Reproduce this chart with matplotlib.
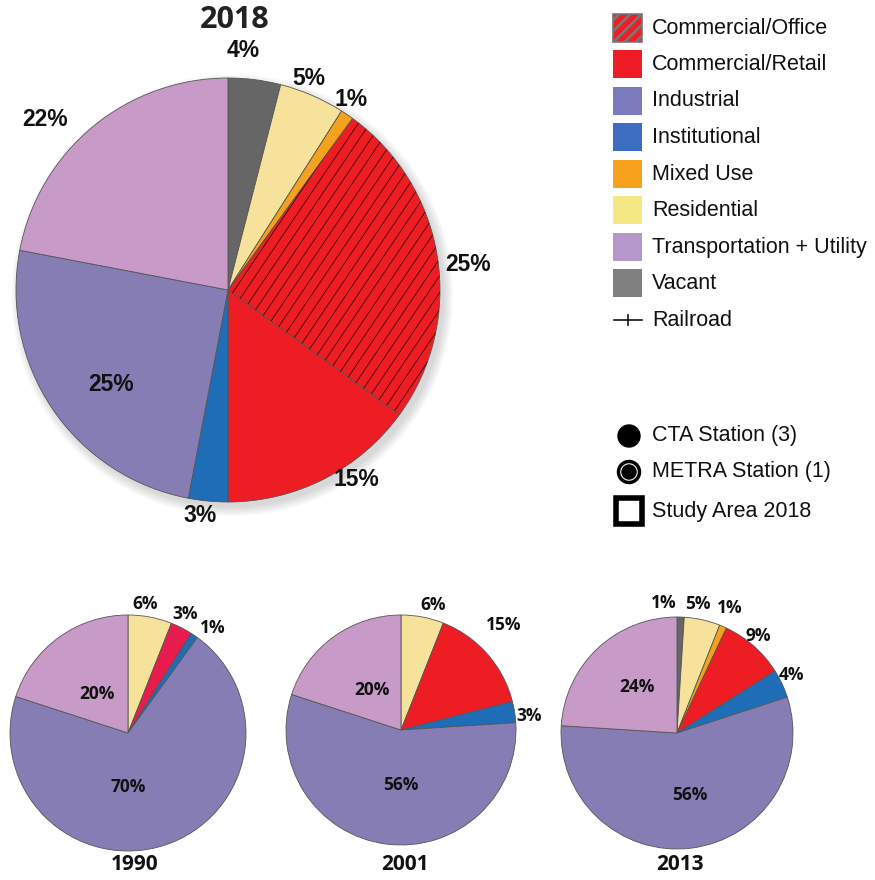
import matplotlib
matplotlib.use('Agg')
import matplotlib.pyplot as plt
from matplotlib.patches import Rectangle, Circle
from matplotlib.collections import LineCollection
from matplotlib import font_manager
import numpy as np

# land use shares, clockwise from 12 o'clock
cats_2018 = ['Vacant', 'Residential', 'Mixed Use', 'Commercial/Office', 'Commercial/Retail',
             'Institutional', 'Industrial', 'Transportation + Utility']
vals_2018 = [4, 5, 1, 25, 15, 3, 25, 22]

cats_1990 = ['Residential', 'Commercial/Retail', 'Institutional', 'Industrial', 'Transportation + Utility']
vals_1990 = [6, 3, 1, 70, 20]

cats_2001 = ['Residential', 'Commercial/Retail', 'Institutional', 'Industrial', 'Transportation + Utility']
vals_2001 = [6, 15, 3, 56, 20]

cats_2013 = ['Vacant', 'Residential', 'Mixed Use', 'Commercial/Retail', 'Institutional',
             'Industrial', 'Transportation + Utility']
vals_2013 = [1, 5, 1, 9, 4, 56, 24]

legend_cats = ['Commercial/Office', 'Commercial/Retail', 'Industrial', 'Institutional',
               'Mixed Use', 'Residential', 'Transportation + Utility', 'Vacant']
station_labels = ['CTA Station (3)', 'METRA Station (1)', 'Study Area 2018']

pie_colors = {
    'Vacant': '#666666',
    'Residential': '#f6e29b',
    'Mixed Use': '#f6a11d',
    'Commercial/Office': '#ee1d24',
    'Commercial/Retail': '#ee1d24',
    'Institutional': '#1f6db6',
    'Industrial': '#877db5',
    'Transportation + Utility': '#c89ac8',
}
legend_colors = {
    'Commercial/Office': '#ee1d24',
    'Commercial/Retail': '#ee1c24',
    'Industrial': '#7b7bbd',
    'Institutional': '#3b6ec0',
    'Mixed Use': '#f7a11d',
    'Residential': '#f5e985',
    'Transportation + Utility': '#b597cc',
    'Vacant': '#808080',
}

installed = {f.name for f in font_manager.fontManager.ttflist}
small_font = 'Open Sans' if 'Open Sans' in installed else 'DejaVu Sans'
arial = 'Liberation Sans' if 'Liberation Sans' in installed else 'DejaVu Sans'

W, H = 875, 880
fig = plt.figure(figsize=(W / 100, H / 100), dpi=100)
fig.patch.set_facecolor('white')


def pie_axes(cx, cy, r):
    ax = fig.add_axes([(cx - r) / W, 1 - (cy + r) / H, 2 * r / W, 2 * r / H])
    ax.axis('off')
    return ax


def draw_pie(ax, cats, vals, dists, nudges, fs, family, colors=None):
    cols = colors or [pie_colors[c] for c in cats]
    wedges, _ = ax.pie(vals, colors=cols, startangle=90, counterclock=False, radius=1,
                       wedgeprops=dict(edgecolor='#555555', linewidth=0.6))
    ax.set_xlim(-1, 1)
    ax.set_ylim(-1, 1)
    for w, v, d, n in zip(wedges, vals, dists, nudges):
        a = np.deg2rad((w.theta1 + w.theta2) / 2 - n)
        ax.text(d * np.cos(a), d * np.sin(a), f'{v}%', ha='center', va='center',
                fontsize=fs, fontweight='bold', family=family, color='#111111', clip_on=False)
    return wedges


# ---- 2018 main pie
ax18 = pie_axes(228, 290, 212)
for i in range(6):
    ax18.add_patch(Circle((0.02, -0.025), 1.0 + 0.008 * i, color='#888888', alpha=0.06,
                          lw=0, zorder=0, clip_on=False))
w18 = draw_pie(ax18, cats_2018, vals_2018,
               dists=[1.13, 1.07, 1.07, 1.14, 1.08, 1.07, 0.71, 1.18],
               nudges=[-3.6, -2.4, -1.2, 3, -7, 1.6, -4.8, -7.4],
               fs=16.5, family=arial)

# hatch lines on the office wedge
office = w18[cats_2018.index('Commercial/Office')]
ang = np.deg2rad(56)
ux, uy = np.cos(ang), np.sin(ang)
px, py = -uy, ux
segs = []
for k in np.arange(-1.6, 1.6, 0.045):
    segs.append([(k * px - 2 * ux, k * py - 2 * uy), (k * px + 2 * ux, k * py + 2 * uy)])
lc = LineCollection(segs, colors='#2a0a0a', linewidths=0.55, zorder=3)
ax18.add_collection(lc)
lc.set_clip_path(office)

# ---- small pies
ax90 = pie_axes(128, 733, 118)
draw_pie(ax90, cats_1990, vals_1990,
         dists=[1.1, 1.12, 1.14, 0.46, 0.42], nudges=[-3.2, -1.2, 4.8, 18, -3],
         fs=12.5, family=small_font,
         colors=['#f6e29b', '#e81c4c', '#1f6db6', '#877db5', '#c89ac8'])

ax01 = pie_axes(401, 730, 115)
draw_pie(ax01, cats_2001, vals_2001,
         dists=[1.12, 1.28, 1.12, 0.48, 0.43], nudges=[3.7, -4.1, 2.7, -7.2, 0],
         fs=12.5, family=small_font)

ax13 = pie_axes(677, 733, 116)
draw_pie(ax13, cats_2013, vals_2013,
         dists=[1.13, 1.13, 1.17, 1.09, 1.11, 0.55, 0.53],
         nudges=[-7.5, -3.6, -0.4, -1.4, -1.8, -4.8, 2.2],
         fs=12.5, family=small_font)

# ---- overlay for titles and legends (pixel coords)
ov = fig.add_axes([0, 0, 1, 1], zorder=-1)
ov.set_xlim(0, W)
ov.set_ylim(H, 0)
ov.axis('off')

ov.text(235, 20, '2018', ha='center', va='center', fontsize=22, fontweight='bold',
        family=small_font, color='#222222')
for yr, x in zip(['1990', '2001', '2013'], [135, 405, 680]):
    ov.text(x, 865, yr, ha='center', va='center', fontsize=15, fontweight='bold',
            family=small_font, color='#111111')

plt.rcParams['hatch.linewidth'] = 2.0
row_y = 28
for c in legend_cats:
    if c == 'Commercial/Office':
        ov.add_patch(Rectangle((613, row_y - 14), 29, 28, facecolor=legend_colors[c],
                               edgecolor='#777777', hatch='///', lw=1.2))
    else:
        ov.add_patch(Rectangle((613, row_y - 14), 29, 28, facecolor=legend_colors[c],
                               edgecolor='none'))
    ov.text(652, row_y, c, ha='left', va='center', fontsize=15.5, family=arial, color='#111111')
    row_y += 36.5
ov.plot([614, 642], [row_y, row_y], color='#111111', lw=1.2)
ov.plot([628, 628], [row_y - 5, row_y + 5], color='#111111', lw=1.2)
ov.text(652, row_y, 'Railroad', ha='left', va='center', fontsize=15.5, family=arial, color='#111111')

sy = [436, 472, 511]
ov.add_patch(Circle((629, sy[0]), 11, color='black'))
ov.add_patch(Circle((629, sy[1]), 10.5, facecolor='white', edgecolor='black', lw=2.5))
ov.add_patch(Circle((629, sy[1]), 7, color='black'))
ov.add_patch(Rectangle((616, sy[2] - 13), 26, 26, facecolor='white', edgecolor='black', lw=4))
for lab, y in zip(station_labels, sy):
    ov.text(652, y, lab, ha='left', va='center', fontsize=15.5, family=arial, color='#111111')

fig.savefig('out.png', dpi=100)
